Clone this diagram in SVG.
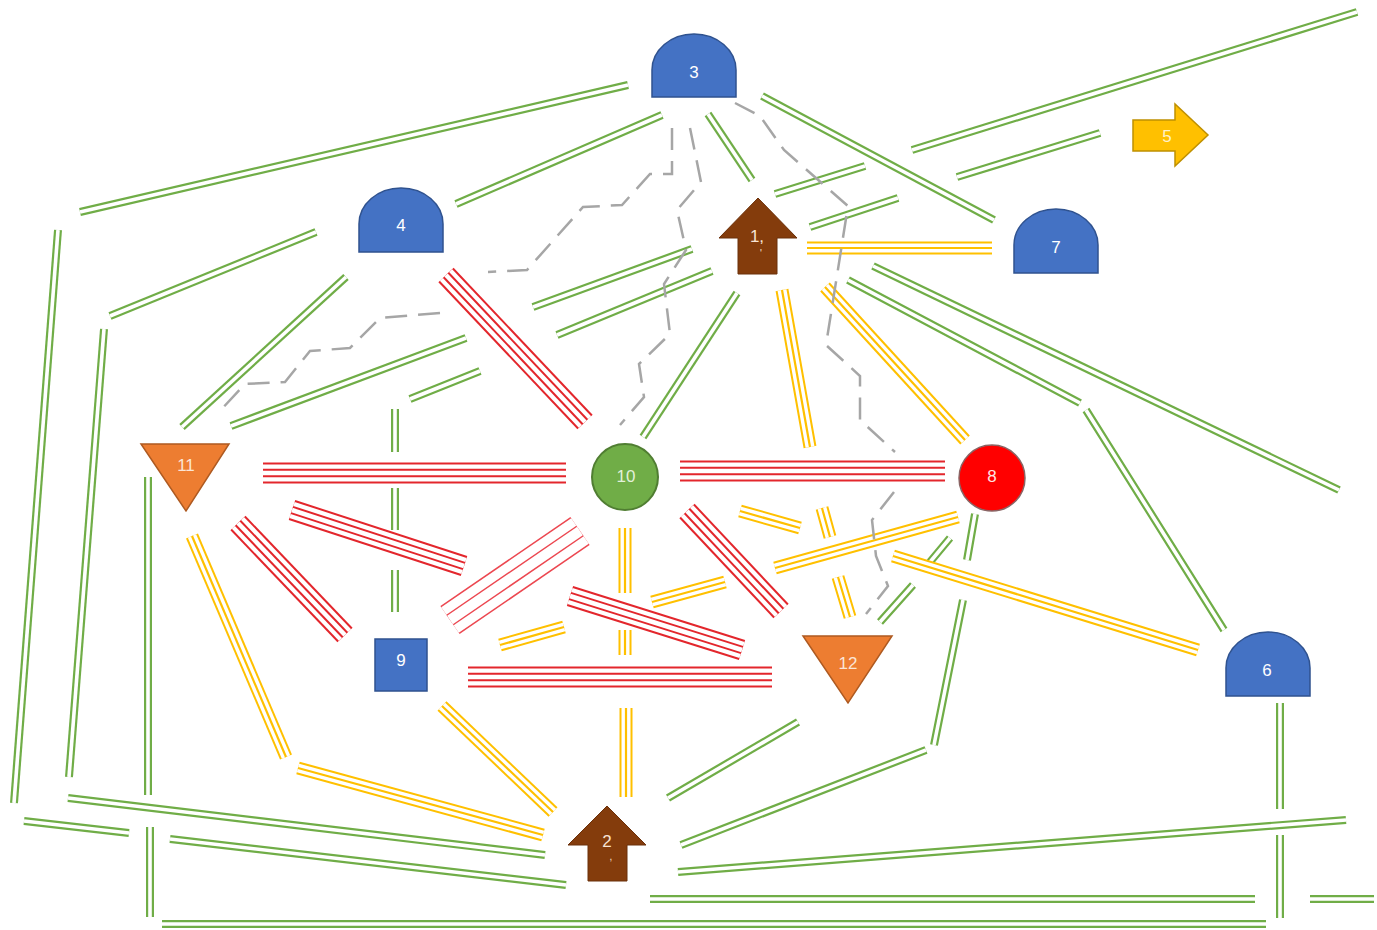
<svg xmlns="http://www.w3.org/2000/svg" xmlns:xlink="http://www.w3.org/1999/xlink" width="1377" height="930" viewBox="0 0 1377 930">
  <style>
    .u { fill: none; stroke-linecap: butt; stroke-linejoin: miter; }
    .gO { stroke: #70AD47; stroke-width: 8; }
    .gI { stroke: #ffffff; stroke-width: 3.6; }
    .yO { stroke: #FFC000; stroke-width: 13; }
    .yI { stroke: #ffffff; stroke-width: 9; }
    .yC { stroke: #FFC000; stroke-width: 2.2; }
    .rO { stroke: #E3262C; stroke-width: 21; }
    .rI { stroke: #ffffff; stroke-width: 17; }
    .rM { stroke: #E3262C; stroke-width: 8.5; }
    .rC { stroke: #ffffff; stroke-width: 4.5; }
    .wO { stroke: #EC4750; stroke-width: 34; }
    .wI { stroke: #ffffff; stroke-width: 31; }
    .wM { stroke: #EC4750; stroke-width: 13; }
    .wC { stroke: #ffffff; stroke-width: 10; }
    .dash { fill: none; stroke: #A6A6A6; stroke-width: 2.5; stroke-dasharray: 22 11; }
    .arch { fill: #4472C4; stroke: #2F528F; stroke-width: 1.5; }
    .tri { fill: #ED7D31; stroke: #AE5A21; stroke-width: 1.5; }
    .up { fill: #843C0C; stroke: #6B300A; stroke-width: 1; }
    .lbl { font-family: "Liberation Sans", Arial, sans-serif; font-size: 17px; text-anchor: middle; fill: #ffffff; }
  </style>
  <defs>
    <!-- double green tracks -->
    <g id="greenTracks">
      <path d="M80,212 L628,85"/>
      <path d="M58,230 L14,803"/>
      <path d="M316,232 L110,316"/>
      <path d="M104,329 L69,777"/>
      <path d="M346,277 L182,427"/>
      <path d="M231,426 L466,338"/>
      <path d="M410,399 L480,371"/>
      <path d="M395,409 V452 M395,488 V530 M395,570 V612"/>
      <path d="M148,477 V795 M150,827 V917"/>
      <path d="M162,924 H1266"/>
      <path d="M68,798 L545,855"/>
      <path d="M24,821 L129,833"/>
      <path d="M170,839 L566,885"/>
      <path d="M650,899 H1255 M1310,899 H1374"/>
      <path d="M1280,703 V809 M1280,835 V918"/>
      <path d="M678,872 L1346,820"/>
      <path d="M681,845 L926,750"/>
      <path d="M668,798 L798,722"/>
      <path d="M975,514 L967,560 M963,600 L934,745"/>
      <path d="M950,538 L930,562 M913,585 L880,622"/>
      <path d="M848,280 L1080,403 M1086,410 L1224,630"/>
      <path d="M873,266 L1339,490"/>
      <path d="M762,96 L994,220"/>
      <path d="M708,114 L752,180"/>
      <path d="M662,115 L456,204"/>
      <path d="M912,150 L1357,12"/>
      <path d="M957,177 L1100,133"/>
      <path d="M775,194 L865,166"/>
      <path d="M810,227 L898,198"/>
      <path d="M533,307 L692,249"/>
      <path d="M557,335 L712,271"/>
      <path d="M737,293 L643,437"/>
    </g>
    <!-- triple yellow tracks -->
    <g id="yellowTracks">
      <path d="M807,248 H992"/>
      <path d="M782,290 L810,447 M822,508 L830,537 M838,577 L850,617"/>
      <path d="M825,287 L965,440"/>
      <path d="M192,536 L286,757"/>
      <path d="M298,768 L543,835"/>
      <path d="M442,706 L553,812"/>
      <path d="M625,528 V593 M625,630 V655 M626,708 V797"/>
      <path d="M740,511 L800,528 M893,556 L1198,650"/>
      <path d="M958,517 L775,568 M725,582 L652,602 M564,627 L500,645"/>
    </g>
    <!-- quadruple red tracks -->
    <g id="redTracks">
      <path d="M263,473 H566"/>
      <path d="M680,471 H945"/>
      <path d="M446,275 L585,422"/>
      <path d="M238,523 L345,635"/>
      <path d="M292,510 L464,566"/>
      <path d="M570,596 L742,650"/>
      <path d="M687,511 L781,611"/>
      <path d="M468,677 H772"/>
    </g>
    <g id="redWide">
      <path d="M450,620 L580,531"/>
    </g>
  </defs>

  <rect width="1377" height="930" fill="#ffffff"/>

  <g id="connectors">
    <use href="#greenTracks" class="u gO"/>
    <use href="#greenTracks" class="u gI"/>
    <use href="#yellowTracks" class="u yO"/>
    <use href="#yellowTracks" class="u yI"/>
    <use href="#yellowTracks" class="u yC"/>
    <use href="#redTracks" class="u rO"/>
    <use href="#redTracks" class="u rI"/>
    <use href="#redTracks" class="u rM"/>
    <use href="#redTracks" class="u rC"/>
    <use href="#redWide" class="u wO"/>
    <use href="#redWide" class="u wI"/>
    <use href="#redWide" class="u wM"/>
    <use href="#redWide" class="u wC"/>
    <!-- dashed grey routes -->
    <path class="dash" d="M672,128 L672,174 L650,174 L622,205 L583,207 L527,270 L488,272"/>
    <path class="dash" d="M440,313 L380,318 L350,348 L310,351 L285,382 L245,384 L218,413"/>
    <path class="dash" d="M690,128 L701,182 L677,210 L686,250 L664,284 L670,334 L639,364 L644,397 L620,425"/>
    <path class="dash" d="M735,103 L760,116 L784,150 L848,206 L826,345 L860,376 L860,420 L895,452"/>
    <path class="dash" d="M894,492 L872,520 L876,556 L888,586 L866,614"/>
  </g>

  <g id="node-1">
    <path class="up" d="M758,198 L797,238 L777,238 L777,274 L738,274 L738,238 L719,238 Z"/>
    <text class="lbl" x="757" y="242" fill="#F8E4D4" style="fill:#F8E4D4">1,</text>
    <text class="lbl" x="761" y="257" style="font-size:10px;fill:#F8E4D4">'</text>
  </g>
  <g id="node-2">
    <path class="up" d="M607,806 L646,845 L627,845 L627,881 L588,881 L588,845 L568,845 Z"/>
    <text class="lbl" x="607" y="847" style="fill:#F8E4D4">2</text>
    <text class="lbl" x="611" y="860" style="font-size:10px;fill:#F8E4D4">,</text>
  </g>
  <g id="node-3">
    <path class="arch" d="M652,97 V70 A42,36 0 0 1 736,70 V97 Z"/>
    <text class="lbl" x="694" y="78">3</text>
  </g>
  <g id="node-4">
    <path class="arch" d="M359,252 V224 A42,36 0 0 1 443,224 V252 Z"/>
    <text class="lbl" x="401" y="231">4</text>
  </g>
  <g id="node-5">
    <path d="M1133,120 H1175 V104 L1208,135 L1175,166 V151 H1133 Z" fill="#FFC000" stroke="#BF9000" stroke-width="1.5"/>
    <text class="lbl" x="1167" y="142" style="fill:#FFF2CC">5</text>
  </g>
  <g id="node-6">
    <path class="arch" d="M1226,696 V668 A42,36 0 0 1 1310,668 V696 Z"/>
    <text class="lbl" x="1267" y="676">6</text>
  </g>
  <g id="node-7">
    <path class="arch" d="M1014,273 V245 A42,36 0 0 1 1098,245 V273 Z"/>
    <text class="lbl" x="1056" y="253">7</text>
  </g>
  <g id="node-8">
    <circle cx="992" cy="478" r="33" fill="#FF0000" stroke="#8A6464" stroke-width="1.5"/>
    <text class="lbl" x="992" y="482" style="fill:#FFE4E4">8</text>
  </g>
  <g id="node-9">
    <rect x="375" y="639" width="52" height="52" fill="#4472C4" stroke="#2F528F" stroke-width="1.5"/>
    <text class="lbl" x="401" y="666">9</text>
  </g>
  <g id="node-10">
    <circle cx="625" cy="477" r="33" fill="#70AD47" stroke="#507E32" stroke-width="2"/>
    <text class="lbl" x="626" y="482" style="fill:#E2F0D9">10</text>
  </g>
  <g id="node-11">
    <path class="tri" d="M141,444 L229,444 L186,511 Z"/>
    <text class="lbl" x="186" y="471" style="fill:#FBE5D6">11</text>
  </g>
  <g id="node-12">
    <path class="tri" d="M803,636 L892,636 L848,703 Z"/>
    <text class="lbl" x="848" y="669" style="fill:#FBE5D6">12</text>
  </g>
</svg>
